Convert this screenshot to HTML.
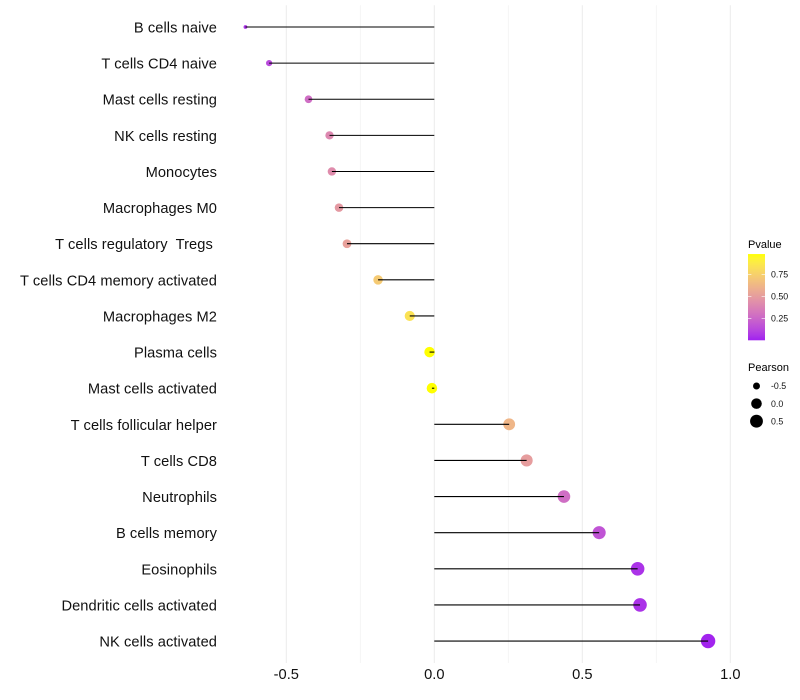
<!DOCTYPE html>
<html>
<head>
<meta charset="utf-8">
<title>Lollipop chart</title>
<style>
html,body{margin:0;padding:0;background:#fff;}
svg{display:block;font-family:"Liberation Sans",sans-serif;}
</style>
</head>
<body>
<svg id="chart" width="800" height="700" viewBox="0 0 800 700"></svg>
<script>
const categories = ["B cells naive","T cells CD4 naive","Mast cells resting","NK cells resting","Monocytes","Macrophages M0","T cells regulatory  Tregs ","T cells CD4 memory activated","Macrophages M2","Plasma cells","Mast cells activated","T cells follicular helper","T cells CD8","Neutrophils","B cells memory","Eosinophils","Dendritic cells activated","NK cells activated"];
const pearson = [-0.638,-0.558,-0.425,-0.354,-0.346,-0.322,-0.295,-0.19,-0.083,-0.016,-0.008,0.253,0.312,0.438,0.557,0.687,0.695,0.925];
const pvalue = [0.05,0.13,0.28,0.4,0.42,0.48,0.52,0.72,0.84,0.98,0.98,0.62,0.5,0.28,0.17,0.05,0.05,0.01];
const xTicks = [-0.5,0,0.5,1];
const xTickLabels = ["-0.5","0.0","0.5","1.0"];
const xMinorTicks = [-0.25,0.25,0.75];
const colorTicks = [0.25,0.5,0.75];
const colorTickLabels = ["0.25","0.50","0.75"];
const sizeTicks = [-0.5,0,0.5];
const sizeTickLabels = ["-0.5","0.0","0.5"];

const NS = "http://www.w3.org/2000/svg";
const svg = document.getElementById("chart");
function mk(tag, attrs, parent){
  const e = document.createElementNS(NS, tag);
  for (const k in attrs) e.setAttribute(k, attrs[k]);
  (parent || svg).appendChild(e);
  return e;
}
const x = v => 434.3 + v * 296;
const y = i => 27 + i * 36.12;
const minP = Math.min(...pearson), maxP = Math.max(...pearson);
const radius = v => 1.9 + 5.3 * Math.sqrt((v - minP) / (maxP - minP));
const maxPvalue = Math.max(...pvalue);

function rgb2lab(c){
  const f0 = u => { u/=255; return u<=0.04045?u/12.92:Math.pow((u+0.055)/1.055,2.4); };
  const r=f0(c[0]),g=f0(c[1]),b=f0(c[2]);
  const X=(0.4124*r+0.3576*g+0.1805*b)/0.95047,Y=0.2126*r+0.7152*g+0.0722*b,Z=(0.0193*r+0.1192*g+0.9505*b)/1.08883;
  const f=t=>t>0.008856?Math.cbrt(t):7.787*t+16/116;
  return [116*f(Y)-16,500*(f(X)-f(Y)),200*(f(Y)-f(Z))];
}
function lab2rgb(l){
  const fy=(l[0]+16)/116,fx=fy+l[1]/500,fz=fy-l[2]/200;
  const g=t=>t*t*t>0.008856?t*t*t:(t-16/116)/7.787;
  const X=g(fx)*0.95047,Y=g(fy),Z=g(fz)*1.08883;
  const R=3.2406*X-1.5372*Y-0.4986*Z,G=-0.9689*X+1.8758*Y+0.0415*Z,B=0.0557*X-0.204*Y+1.057*Z;
  const h=u=>{u=u<=0.0031308?12.92*u:1.055*Math.pow(Math.max(u,0),1/2.4)-0.055;return Math.round(Math.min(1,Math.max(0,u))*255);};
  return "rgb("+h(R)+","+h(G)+","+h(B)+")";
}
const labLow = rgb2lab([160,32,240]), labHigh = rgb2lab([255,255,0]);
const colorT = t => lab2rgb(labLow.map((a,i)=>a+(labHigh[i]-a)*t));
const color = p => colorT(Math.min(1, p / maxPvalue));

const gridLayer = mk("g", {});


xMinorTicks.forEach(t => {
  const l = mk("line", {x1:x(t),x2:x(t),y1:5.3,y2:663,stroke:"#f0f0f0","stroke-width":0.7}, gridLayer);
  
  
});
xTicks.forEach(t => {
  const l = mk("line", {x1:x(t),x2:x(t),y1:5.3,y2:663,stroke:"#ebebeb","stroke-width":1}, gridLayer);
  
  
});

categories.forEach((c,i) => {
  const t = mk("text", {x:217,y:y(i)+5.5,"text-anchor":"end","font-size":14.65,"letter-spacing":0.07,fill:"#111","xml:space":"preserve"});
  t.style.whiteSpace = "pre";
  t.textContent = c;
  
  
});

pearson.forEach((v,i) => {
  const d = mk("circle", {cx:x(v),cy:y(i),r:radius(v),fill:color(pvalue[i])});
  
  
});
pearson.forEach((v,i) => {
  const l = mk("line", {x1:x(0),x2:x(v),y1:y(i),y2:y(i),stroke:"#000","stroke-width":1.07});
  
  
});

xTicks.forEach((t,i) => {
  const e = mk("text", {x:x(t),y:679,"text-anchor":"middle","font-size":14.65,fill:"#111"});
  e.textContent = xTickLabels[i];
  
  
});

const pTitle = mk("text", {x:748,y:248,"font-size":11,fill:"#000"});
pTitle.textContent = "Pvalue";



const barX = 748, barW = 17, barBottom = 340.3, barScale = 88;
const barTop = barBottom - maxPvalue * barScale;
const defs = mk("defs", {});
const grad = mk("linearGradient", {id:"pvalGrad",x1:0,y1:1,x2:0,y2:0}, defs);
for (let k = 0; k <= 20; k++) {
  mk("stop", {offset:(k/20),"stop-color":colorT(k/20)}, grad);
}
const bar = mk("rect", {x:barX,y:barTop,width:barW,height:barBottom-barTop,fill:"url(#pvalGrad)"});


colorTicks.forEach((t,i) => {
  const yy = barBottom - t * barScale;
  const a = mk("line", {x1:barX,x2:barX+3.4,y1:yy,y2:yy,stroke:"#fff","stroke-width":0.6});
  
  
  const b = mk("line", {x1:barX+barW-3.4,x2:barX+barW,y1:yy,y2:yy,stroke:"#fff","stroke-width":0.6});
  
  
  const e = mk("text", {x:771,y:yy+3.2,"font-size":8.8,fill:"#111"});
  e.textContent = colorTickLabels[i];
  
  
});

const sTitle = mk("text", {x:748,y:371,"font-size":11,fill:"#000"});
sTitle.textContent = "Pearson";


sizeTicks.forEach((t,i) => {
  const yy = 386 + i * 17.6;
  const c = mk("circle", {cx:756.5,cy:yy,r:radius(t),fill:"#000"});
  
  
  const e = mk("text", {x:771,y:yy+3.2,"font-size":8.8,fill:"#111"});
  e.textContent = sizeTickLabels[i];
  
  
});
</script>
</body>
</html>
